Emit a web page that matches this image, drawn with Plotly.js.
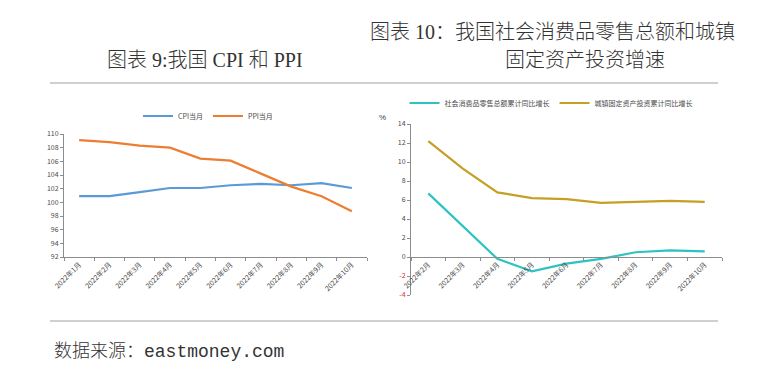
<!DOCTYPE html>
<html>
<head>
<meta charset="utf-8">
<script src="https://cdn.plot.ly/plotly-3.0.1.min.js"></script>
<style>html,body{margin:0;padding:0;background:#fff;}#chart{width:760px;height:386px;}</style>
</head>
<body>
<div id="chart"></div>
<script>
// Left chart: CPI / PPI (monthly, same month last year = 100)
const monthsLeft = ["2022年1月","2022年2月","2022年3月","2022年4月","2022年5月","2022年6月","2022年7月","2022年8月","2022年9月","2022年10月"];
const cpi = [100.9, 100.9, 101.5, 102.1, 102.1, 102.5, 102.7, 102.5, 102.8, 102.1];
const ppi = [109.1, 108.8, 108.3, 108.0, 106.4, 106.1, 104.2, 102.3, 100.9, 98.7];

// Right chart: cumulative YoY growth (%)
const monthsRight = ["2022年2月","2022年3月","2022年4月","2022年5月","2022年6月","2022年7月","2022年8月","2022年9月","2022年10月"];
const retail = [6.7, 3.3, -0.2, -1.5, -0.7, -0.2, 0.5, 0.7, 0.6];
const fai = [12.2, 9.3, 6.8, 6.2, 6.1, 5.7, 5.8, 5.9, 5.8];

const rightTickVals = [-4, -2, 0, 2, 4, 6, 8, 10, 12, 14];
const rightTickText = ['<span style="color:#e03030">-4</span>','<span style="color:#e03030">-2</span>','0','2','4','6','8','10','12','14'];

const W = 760, H = 386;
const px = v => v / W;
const py = v => 1 - v / H;

const tickFont = {family: "Noto Sans CJK SC, Liberation Sans, sans-serif", size: 7, color: "#4a4a4a"};
const titleFamily = "Liberation Serif, Noto Sans CJK SC, serif";

const traces = [
  {x: monthsLeft, y: cpi, name: "CPI当月", type: "scatter", mode: "lines",
   line: {color: "#5B9BD5", width: 2.2}, xaxis: "x", yaxis: "y", legend: "legend"},
  {x: monthsLeft, y: ppi, name: "PPI当月", type: "scatter", mode: "lines",
   line: {color: "#ED7D31", width: 2.2}, xaxis: "x", yaxis: "y", legend: "legend"},
  {x: monthsRight, y: retail, name: "社会消费品零售总额累计同比增长", type: "scatter", mode: "lines",
   line: {color: "#2DC3C3", width: 2.2}, xaxis: "x2", yaxis: "y2", legend: "legend2"},
  {x: monthsRight, y: fai, name: "城镇固定资产投资累计同比增长", type: "scatter", mode: "lines",
   line: {color: "#C4A024", width: 2.2}, xaxis: "x2", yaxis: "y2", legend: "legend2"}
];

const axisCommon = {
  showgrid: false, zeroline: false, showline: true, linecolor: "#8c8c8c", linewidth: 1,
  ticks: "outside", ticklen: 3, tickcolor: "#8c8c8c", tickfont: tickFont
};

const layout = {
  width: W, height: H,
  margin: {l: 0, r: 0, t: 0, b: 0},
  paper_bgcolor: "#fff", plot_bgcolor: "rgba(0,0,0,0)",
  showlegend: true,
  xaxis: Object.assign({}, axisCommon, {
    type: "category", domain: [px(64), px(367)], anchor: "y",
    range: [-0.5, 9.5], tickson: "boundaries", tickangle: -45
  }),
  yaxis: Object.assign({}, axisCommon, {
    domain: [py(257), py(134)], anchor: "x", range: [92, 110], dtick: 2, tick0: 92
  }),
  xaxis2: Object.assign({}, axisCommon, {
    type: "category", domain: [px(411), px(722)], anchor: "free", position: py(257),
    range: [-0.5, 8.5], tickson: "boundaries", tickangle: -45
  }),
  yaxis2: Object.assign({}, axisCommon, {
    domain: [py(295), py(124)], anchor: "x2", range: [-4, 14],
    tickmode: "array", tickvals: rightTickVals, ticktext: rightTickText
  }),
  legend: {
    orientation: "h", x: px(208), y: py(116), xanchor: "center", yanchor: "middle",
    font: {family: "Noto Sans CJK SC, sans-serif", size: 7, color: "#4a4a4a"},
    bgcolor: "rgba(0,0,0,0)", itemwidth: 30, tracegroupgap: 0
  },
  legend2: {
    orientation: "h", x: px(551), y: py(103), xanchor: "center", yanchor: "middle",
    font: {family: "Noto Sans CJK SC, sans-serif", size: 7, color: "#4a4a4a"},
    bgcolor: "rgba(0,0,0,0)", itemwidth: 30, tracegroupgap: 0
  },
  shapes: [
    {type: "line", xref: "paper", yref: "paper", x0: px(50), x1: px(718), y0: py(83), y1: py(83),
     line: {color: "#a0a0a0", width: 1}},
    {type: "line", xref: "paper", yref: "paper", x0: px(50), x1: px(718), y0: py(321), y1: py(321),
     line: {color: "#a0a0a0", width: 1}}
  ],
  annotations: [
    {text: "图表 9:我国 CPI 和 PPI", xref: "paper", yref: "paper", x: px(205), y: py(60),
     xanchor: "center", yanchor: "middle", showarrow: false,
     font: {family: titleFamily, size: 20, color: "#333", weight: 300}},
    {text: "图表 10：我国社会消费品零售总额和城镇", xref: "paper", yref: "paper", x: px(552), y: py(32),
     xanchor: "center", yanchor: "middle", showarrow: false,
     font: {family: titleFamily, size: 20, color: "#333", weight: 300}},
    {text: "固定资产投资增速", xref: "paper", yref: "paper", x: px(585), y: py(60),
     xanchor: "center", yanchor: "middle", showarrow: false,
     font: {family: titleFamily, size: 20, color: "#333", weight: 300}},
    {text: "%", xref: "paper", yref: "paper", x: px(383), y: py(118),
     xanchor: "center", yanchor: "middle", showarrow: false,
     font: {family: "Liberation Sans, sans-serif", size: 8, color: "#404040"}},
    {text: "数据来源：eastmoney.com", xref: "paper", yref: "paper", x: px(52), y: py(351),
     xanchor: "left", yanchor: "middle", showarrow: false,
     font: {family: "Liberation Mono, Noto Sans CJK SC, monospace", size: 18, color: "#333", weight: 300}}
  ]
};

Plotly.newPlot("chart", traces, layout, {staticPlot: true, displayModeBar: false});
</script>
</body>
</html>
